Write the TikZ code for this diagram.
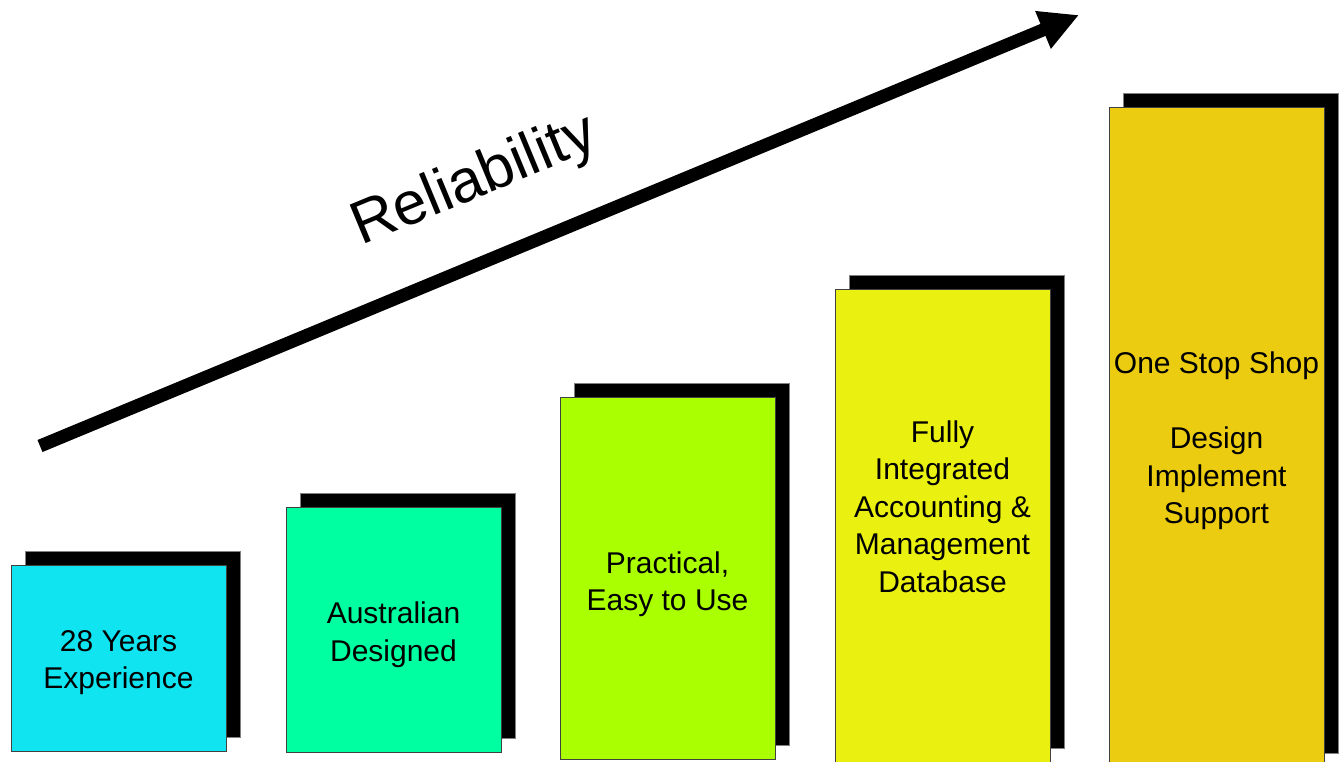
\documentclass[tikz,border=0pt]{standalone}
\usepackage{fontspec}
\setmainfont{Liberation Sans}
\usetikzlibrary{arrows.meta,calc}
\definecolor{cA}{HTML}{10E4F0}
\definecolor{cB}{HTML}{00FFA0}
\definecolor{cC}{HTML}{AAFF00}
\definecolor{cD}{HTML}{EAF010}
\definecolor{cE}{HTML}{ECCC10}
\tikzset{
  bar/.style={draw=black!75, line width=0.8pt, inner sep=0pt, minimum width=215pt},
  shadebox/.style={fill=black, draw=black!50, line width=0.6pt, inner sep=0pt, minimum width=215pt},
  lbl/.style={font=\fontsize{30}{37.5}\selectfont, align=center, inner sep=0pt},
  bigarrow/.style={line width=13pt, -{Triangle[length=39pt,width=38pt]}},
}
\begin{document}
\begin{tikzpicture}[x=1pt,y=-1pt]
\useasboundingbox[fill=white] (0,0) rectangle (1340,762);
\clip (0,0) rectangle (1340,762);
% shadows
\node[shadebox, minimum height=186pt] (s1) at (132.5,644) {};
\node[shadebox, minimum height=245pt] (s2) at (407.5,615.5) {};
\node[shadebox, minimum height=362pt] (s3) at (681.5,564) {};
\node[shadebox, minimum height=473pt] (s4) at (956.5,511.5) {};
\node[shadebox, minimum height=660pt] (s5) at (1230.5,423) {};
% bars
\node[bar, fill=cA, minimum height=186pt] (b1) at (118.5,658) {};
\node[bar, fill=cB, minimum height=245pt] (b2) at (393.5,629.5) {};
\node[bar, fill=cC, minimum height=362pt] (b3) at (667.5,578) {};
\node[bar, fill=cD, minimum height=473pt] (b4) at (942.5,525.5) {};
\node[bar, fill=cE, minimum height=660pt] (b5) at (1216.5,437) {};
% labels
\node[lbl] (t1) at (118.5,662.6) {28 Years\\Experience};
\node[lbl] (t2) at (393.5,634.6) {Australian\\Designed};
\node[lbl] (t3) at (667.5,584.3) {Practical,\\Easy to Use};
\node[lbl] (t4) at (942.5,506.5) {Fully\\Integrated\\Accounting \&\\Management\\Database};
\node[lbl] (t5) at (1216.5,440.8) {One Stop Shop\\[37.5pt]Design\\Implement\\Support};
% arrow
\coordinate (as) at (40,446);
\coordinate (ae) at (1079,15);
\draw[bigarrow] (as) -- (ae);
\node[font=\fontsize{60.5}{60.5}\selectfont, rotate=22.5, anchor=base west, inner sep=0pt] (rel) at (361,246) {Reliability};
\end{tikzpicture}
\end{document}
